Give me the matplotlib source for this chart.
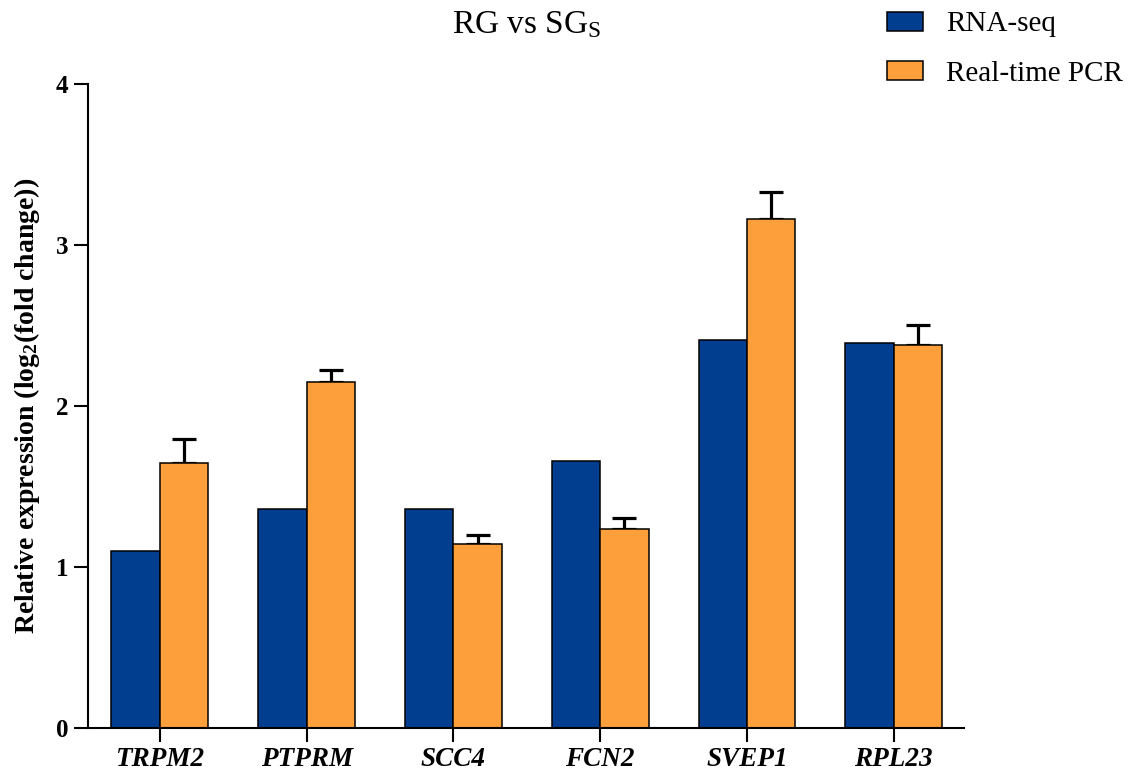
"""
RNA-seq vs real-time PCR validation, RG vs SGs.
"""

import matplotlib
matplotlib.use("Agg")
import matplotlib.pyplot as plt
import numpy as np

genes = ["TRPM2", "PTPRM", "SCC4", "FCN2", "SVEP1", "RPL23"]
rnaseq = [1.10, 1.36, 1.36, 1.66, 2.41, 2.39]
pcr = [1.645, 2.15, 1.14, 1.235, 3.16, 2.38]
pcr_err = [0.15, 0.075, 0.06, 0.07, 0.17, 0.12]

blue = "#023e8f"
orange = "#fd9f3a"

plt.rcParams["font.family"] = ["Liberation Serif", "DejaVu Serif"]
plt.rcParams["mathtext.fontset"] = "custom"
plt.rcParams["mathtext.rm"] = "Liberation Serif"
plt.rcParams["mathtext.it"] = "Liberation Serif:italic"
plt.rcParams["mathtext.bf"] = "Liberation Serif:bold"

fig = plt.figure(figsize=(11.37, 7.77), dpi=100)
ax = fig.add_axes([0.0774, 0.063, 0.7706, 0.829])

x = np.arange(len(genes))
w = 0.33
ax.bar(x - w / 2, rnaseq, w, color=blue, edgecolor="black", linewidth=1.1,
       label="RNA-seq", zorder=2)
ax.bar(x + w / 2, pcr, w, color=orange, edgecolor="black", linewidth=1.1,
       label="Real-time PCR", zorder=2)
# only upper error bars, as in the original
ax.errorbar(x + w / 2, pcr, yerr=[np.zeros(len(pcr)), pcr_err], fmt="none",
            ecolor="black", elinewidth=2.3, capsize=8.5, capthick=2.3, zorder=1)

ax.set_xlim(-0.49, 5.48)
ax.set_ylim(0, 4)
ax.set_yticks([0, 1, 2, 3, 4])
ax.set_xticks(x)
ax.set_xticklabels(genes, fontsize=19.5, fontweight="bold", fontstyle="italic")
for lab in ax.get_yticklabels():
    lab.set_fontsize(18)
    lab.set_fontweight("bold")

for side in ["top", "right"]:
    ax.spines[side].set_visible(False)
for side in ["left", "bottom"]:
    ax.spines[side].set_linewidth(1.5)
ax.tick_params(axis="both", length=10, width=1.5, pad=4)

ax.set_ylabel(r"Relative expression (log$_\mathbf{2}$(fold change))",
              fontsize=20, fontweight="bold", labelpad=10)

fig.text(0.4635, 0.9575, r"RG vs SG$_\mathrm{S}$", fontsize=24,
         ha="center", va="baseline")

fig.legend(loc="upper left", bbox_to_anchor=(0.7566, 1.019), frameon=False,
           fontsize=21, handlelength=1.25, handleheight=0.65,
           handletextpad=0.8, labelspacing=0.79)

fig.savefig("out.png", dpi=100)
